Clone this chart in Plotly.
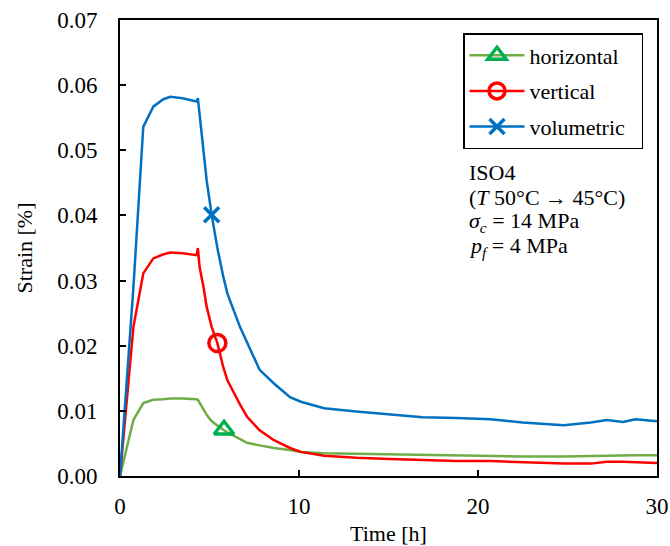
import plotly.graph_objects as go

time_h = [0, 0.3, 0.75, 1.3, 1.86, 2.4, 2.8, 3.5, 4.0, 4.28, 4.35, 4.45, 4.66, 4.84,
          5.12, 5.44, 5.77, 6.0, 6.7, 7.1, 7.8, 8.6, 9.5, 10.1, 11.4, 13.2, 15.1,
          16.9, 18.8, 20.7, 22.5, 24.8, 26.3, 27.2, 28.1, 28.8, 30]

horizontal = [0, 0.0035, 0.0086, 0.0112, 0.0117, 0.0118, 0.0119, 0.0119, 0.0119, 0.0118,
              0.0117, 0.0112, 0.0101, 0.0094, 0.0084, 0.0077, 0.0071, 0.0067, 0.0056,
              0.0051, 0.0047, 0.0043, 0.0040, 0.0037, 0.0035, 0.0034, 0.0033, 0.0032,
              0.0031, 0.0031, 0.0030, 0.0030, 0.0031, 0.0031, 0.0032, 0.0032, 0.0032]

vertical = [0, 0.0090, 0.0229, 0.0311, 0.0334, 0.0340, 0.0343, 0.0342, 0.0340, 0.0339,
            0.0350, 0.0320, 0.0291, 0.0260, 0.0229, 0.0204, 0.0167, 0.0147, 0.0110,
            0.0091, 0.0070, 0.0055, 0.0043, 0.0037, 0.0031, 0.0028, 0.0026, 0.0024,
            0.0023, 0.0023, 0.0021, 0.0019, 0.0019, 0.0022, 0.0022, 0.0021, 0.0020]

volumetric = [0, 0.0110, 0.0290, 0.0536, 0.0567, 0.0578, 0.0582, 0.0580, 0.0577, 0.0575,
              0.0580, 0.0555, 0.0500, 0.0454, 0.0401, 0.0350, 0.0306, 0.0280, 0.0229,
              0.0205, 0.0163, 0.0142, 0.0121, 0.0114, 0.0104, 0.0099, 0.0094, 0.0090,
              0.0089, 0.0087, 0.0082, 0.0078, 0.0082, 0.0086, 0.0083, 0.0087, 0.0084]

marker_t = [5.81, 5.44, 5.12]
marker_v = [0.0071, 0.0204, 0.0401]

names = ["horizontal", "vertical", "volumetric"]
line_colors = ["#70AD47", "#FF0000", "#0070C0"]
marker_colors = ["#00B050", "#FF0000", "#0070C0"]
symbols = ["triangle-up-open", "circle-open", "x-thin-open"]
series = [horizontal, vertical, volumetric]

annot_lines = ["ISO4", "(<i>T</i> 50°C → 45°C)", "<i>σ<sub>c</sub></i> = 14 MPa",
               "<i>p<sub>f</sub></i> = 4 MPa"]

FONT = "Liberation Serif"
PAD = "\u00a0\u00a0"

fig = go.Figure()
for i in range(3):
    fig.add_trace(go.Scatter(
        x=time_h, y=series[i], mode="lines", name=names[i],
        line=dict(color=line_colors[i], width=2.5), legendgroup=names[i],
        showlegend=False))
for i in range(3):
    fig.add_trace(go.Scatter(
        x=[marker_t[i]], y=[marker_v[i]], mode="lines+markers", name=names[i] + PAD,
        legendgroup=names[i],
        line=dict(color=line_colors[i], width=2.5),
        marker=dict(symbol=symbols[i], size=17 if i < 2 else 15,
                    color=marker_colors[i],
                    line=dict(color=marker_colors[i], width=3.5))))

W, H = 670, 546
L, R, T, B = 120, 13, 20, 70
pw, ph = W - L - R, H - T - B

for k, txt in enumerate(annot_lines):
    py = 172 + 25 * k
    fig.add_annotation(
        x=(467 - L) / pw, y=(H - B - py) / ph, xref="paper", yref="paper",
        text=txt, showarrow=False, xanchor="left", yanchor="middle",
        font=dict(family=FONT, size=22, color="black"))

fig.update_layout(
    width=W, height=H,
    margin=dict(l=L, r=R, t=T, b=B, autoexpand=False),
    plot_bgcolor="white", paper_bgcolor="white",
    font=dict(family=FONT, size=21, color="black"),
    legend=dict(x=(643 - L) / pw, y=(H - B - 33) / ph, xanchor="right", yanchor="top",
                bgcolor="white", bordercolor="black", borderwidth=1.5,
                font=dict(family=FONT, size=22), tracegroupgap=4, itemwidth=55),
    showlegend=True,
)
fig.update_xaxes(range=[0, 30], dtick=10, tick0=0, ticks="inside", ticklen=6,
                 tickwidth=1.5, tickcolor="black", showline=True, linecolor="black",
                 linewidth=2, mirror=True, showgrid=False, zeroline=False,
                 automargin=False, ticklabelstandoff=8,
                 title=dict(text="Time [h]", font=dict(size=22), standoff=8),
                 tickfont=dict(size=23))
fig.update_yaxes(range=[0, 0.07], dtick=0.01, tick0=0, tickformat=".2f", ticks="inside",
                 ticklen=6, tickwidth=1.5, tickcolor="black", showline=True,
                 linecolor="black", linewidth=2, mirror=True, showgrid=False,
                 zeroline=False, automargin=False, ticklabelstandoff=16,
                 title=dict(text="Strain [%]", font=dict(size=22), standoff=18),
                 tickfont=dict(size=23))

fig.write_html("out.html", post_script="document.body.style.margin='0';",
               config={"displayModeBar": False})
